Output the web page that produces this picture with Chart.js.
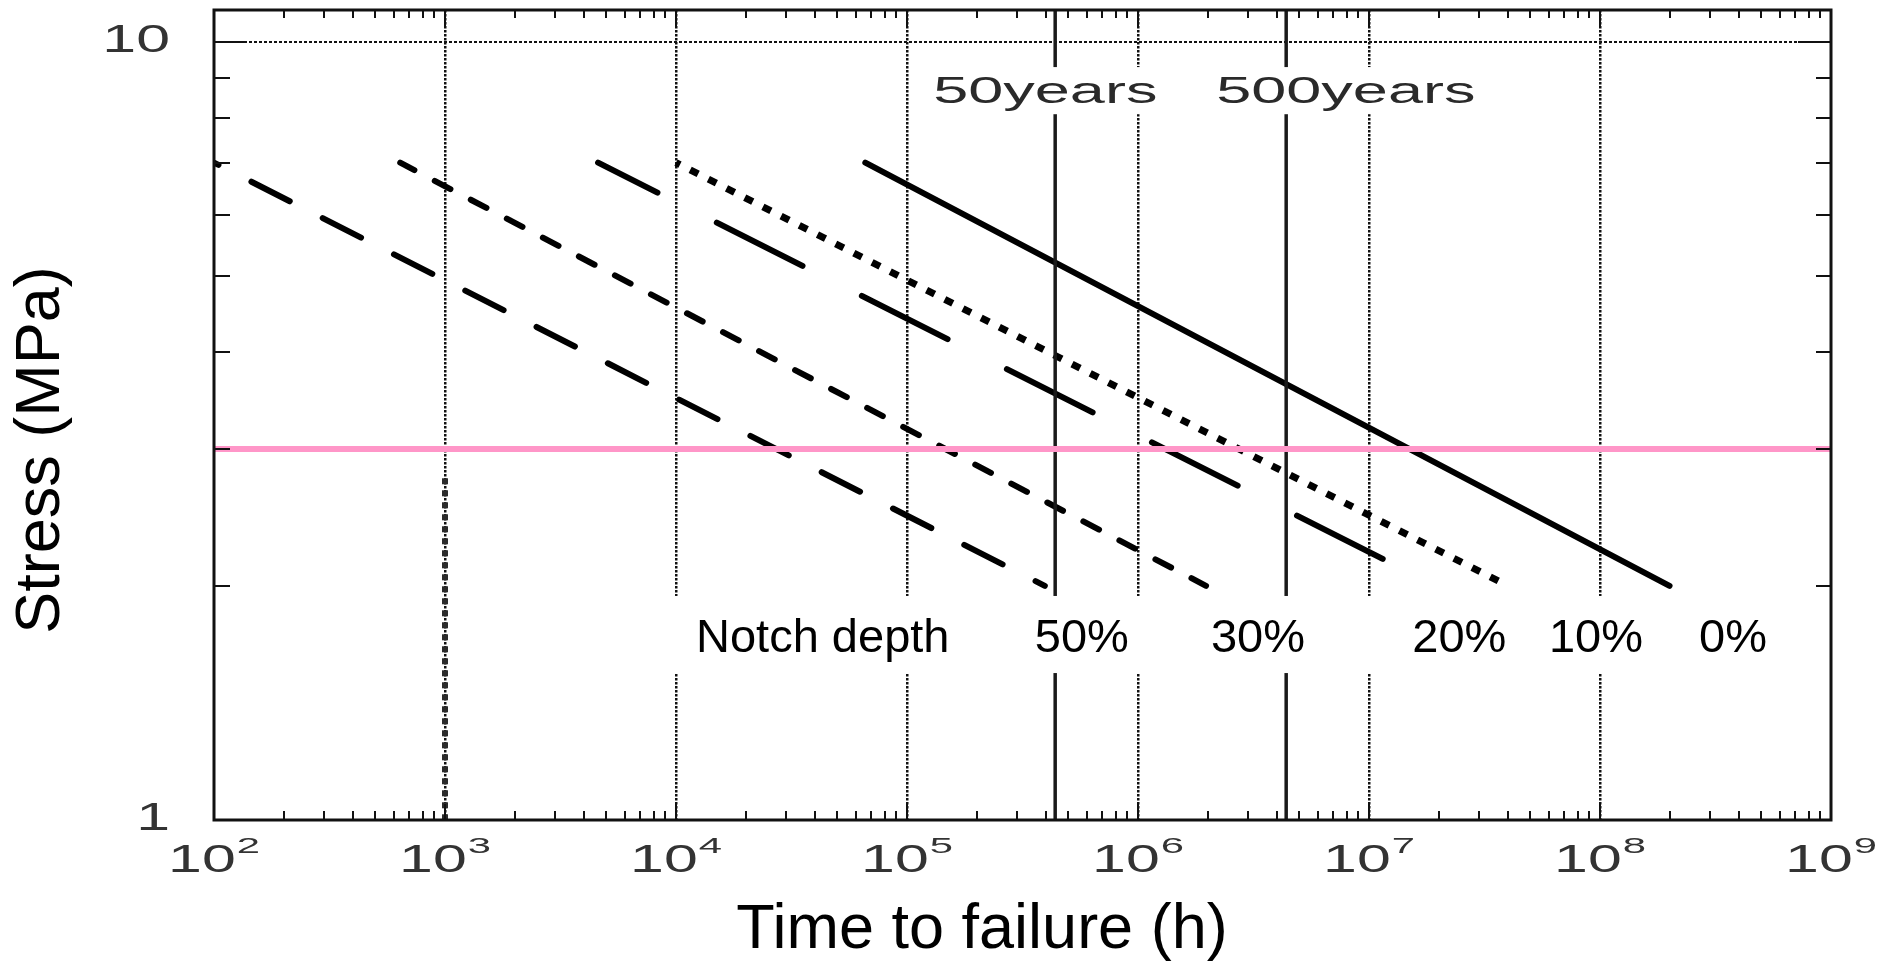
<!DOCTYPE html>
<html>
<head>
<meta charset="utf-8">
<script src="https://cdn.jsdelivr.net/npm/chart.js@4.4.1/dist/chart.umd.min.js"></script>
<style>
html,body{margin:0;padding:0;background:#fff;}
#wrap{width:1883px;height:966px;position:relative;}
</style>
</head>
<body>
<div id="wrap"><canvas id="c"></canvas></div>
<script>
// ---------------- DATA ----------------
const notchDepths   = ['0%', '10%', '20%', '30%', '50%'];
const startTimeH    = [6.6e4, 1.0e4, 4.6e3, 640, 100];        // time (h) where each curve starts
const startStress   = [7, 7, 7, 7, 7];                          // MPa
const endTimeH      = [2.0e8, 4.0e7, 1.95e7, 1.97e6, 3.95e5];  // time (h) where each curve ends
const endStress     = [2, 2, 2, 2, 2];                          // MPa
const refStress     = [3, 3];                                   // pink reference line
const refTimeH      = [1e2, 1e9];
const lifeLabels    = ['50years', '500years'];
const lifeHours     = [438000, 4380000];
const lifeStress    = [1, 11];
const markTimeH     = [1000, 1000];                             // thick dashed marker at 10^3 h
const markStress    = [2.75, 1];
const xTickValues   = [1e2, 1e3, 1e4, 1e5, 1e6, 1e7, 1e8, 1e9];
const xTickExp      = ['2', '3', '4', '5', '6', '7', '8', '9'];
const yTickValues   = [1, 10];
const yTickLabels   = ['1', '10'];
const notchRowLabels = ['Notch depth', '50%', '30%', '20%', '10%', '0%'];

// ---------------- STYLE / LAYOUT ----------------
const FONT = '"Liberation Sans", Arial, sans-serif';
const seriesStyle = {
  '0%':  {borderWidth: 6, borderDash: [],          borderDashOffset: 0,    borderCapStyle: 'round'},
  '10%': {borderWidth: 7, borderDash: [9, 11.4],   borderDashOffset: 4.5,  borderCapStyle: 'butt'},
  '20%': {borderWidth: 6, borderDash: [96, 66.5],  borderDashOffset: 29.5, borderCapStyle: 'round'},
  '30%': {borderWidth: 6, borderDash: [17.7, 23],  borderDashOffset: 1.7,  borderCapStyle: 'round'},
  '50%': {borderWidth: 6, borderDash: [43, 37],    borderDashOffset: 38,   borderCapStyle: 'round'}
};
// white boxes behind annotations (in data units: x0, x1, y0, y1)
const whiteBoxes = [[1.14e5, 3.69e7, 9.29, 8.08], [8.95e3, 6.65e8, 1.941, 1.545]];
// annotation anchors (data units; x = ink-left, y = baseline)
const lifeTextX   = [1.322e5, 2.22e6];
const lifeTextY   = 8.35;
const notchTextX  = [1.258e4, 3.61e5, 2.09e6, 1.57e7, 6.19e7, 2.71e8];
const notchTextY  = 1.644;

// ---------------- BUILD ----------------
const pts = (xs, ys) => xs.map((v, i) => ({x: v, y: ys[i]}));
const datasets = [];
datasets.push({label: 'ref', data: pts(refTimeH, refStress), borderColor: '#ff96c8', borderWidth: 6});
lifeHours.forEach((h, i) => datasets.push({label: lifeLabels[i], data: pts([h, h], lifeStress), borderColor: '#1a1a1a', borderWidth: 3.5}));
datasets.push({label: 'mark', data: pts(markTimeH, markStress), borderColor: '#2b2b2b', borderWidth: 6, borderDash: [6, 6], borderCapStyle: 'butt'});
notchDepths.forEach((n, i) => {
  datasets.push(Object.assign({label: n, data: [{x: startTimeH[i], y: startStress[i]}, {x: endTimeH[i], y: endStress[i]}], borderColor: '#000'}, seriesStyle[n]));
});
datasets.forEach(d => { d.showLine = true; d.pointRadius = 0; d.fill = false; d.tension = 0; });

function stretchText(ctx, txt, x, y, font, sx, align, color) {
  ctx.save();
  ctx.font = font; ctx.fillStyle = color; ctx.textAlign = align || 'left'; ctx.textBaseline = 'alphabetic';
  ctx.translate(x, y); ctx.scale(sx, 1); ctx.fillText(txt, 0, 0);
  ctx.restore();
}

const decor = {
  id: 'decor',
  afterDatasetsDraw(chart) {
    const {ctx, chartArea: a, scales: {x, y}} = chart;
    ctx.save();
    ctx.fillStyle = '#fff';
    whiteBoxes.forEach(b => {
      const x0 = x.getPixelForValue(b[0]), x1 = x.getPixelForValue(b[1]);
      const y0 = y.getPixelForValue(b[2]), y1 = y.getPixelForValue(b[3]);
      ctx.fillRect(x0, Math.min(y0, y1), x1 - x0, Math.abs(y1 - y0));
    });
    // frame
    ctx.strokeStyle = '#111'; ctx.lineWidth = 3;
    ctx.strokeRect(a.left, a.top, a.right - a.left, a.bottom - a.top);
    // ticks
    ctx.lineWidth = 2; ctx.beginPath();
    for (let k = 2; k < 9; k++) {
      for (let m = 1; m <= 9; m++) {
        if (k === 2 && m === 1) continue;
        const px = Math.round(x.getPixelForValue(m * Math.pow(10, k)));
        const major = m === 1;
        ctx.moveTo(px, a.bottom); ctx.lineTo(px, a.bottom - (major ? 16 : 9));
        ctx.moveTo(px, a.top); ctx.lineTo(px, a.top + (major ? 18 : 8));
      }
    }
    for (let m = 2; m <= 10; m++) {
      const py = Math.round(y.getPixelForValue(m));
      const major = m === 10;
      ctx.moveTo(a.left, py); ctx.lineTo(a.left + (major ? 32 : 16), py);
      ctx.moveTo(a.right, py); ctx.lineTo(a.right - (major ? 33 : 15), py);
    }
    ctx.stroke();
    ctx.restore();
  },
  afterDraw(chart) {
    const {ctx, chartArea: a, scales: {x, y}} = chart;
    ctx.save();
    const tickCol = '#333';
    // x tick labels 10^k
    const mainF = '38px ' + FONT, supF = '22px ' + FONT, sxM = 1.6, sxS = 1.9;
    xTickValues.forEach((v, i) => {
      const px = x.getPixelForValue(v);
      ctx.font = mainF; const wm = ctx.measureText('10').width * sxM;
      ctx.font = supF;  const ws = ctx.measureText(xTickExp[i]).width * sxS;
      const left = px - (wm + 1 + ws) / 2;
      stretchText(ctx, '10', left, a.bottom + 52, mainF, sxM, 'left', tickCol);
      stretchText(ctx, xTickExp[i], left + wm + 1, a.bottom + 33, supF, sxS, 'left', tickCol);
    });
    // y tick labels
    yTickValues.forEach((v, i) => {
      const py = y.getPixelForValue(v);
      stretchText(ctx, yTickLabels[i], a.left - 44, py + 10, mainF, sxM, 'right', tickCol);
    });
    // design-life labels
    const lifeF = '36px ' + FONT;
    lifeLabels.forEach((t, i) => {
      ctx.font = lifeF;
      const bl = ctx.measureText(t).actualBoundingBoxLeft * 1.75;
      stretchText(ctx, t, x.getPixelForValue(lifeTextX[i]) + bl, y.getPixelForValue(lifeTextY), lifeF, 1.75, 'left', '#2a2a2a');
    });
    // notch depth row
    ctx.font = '47px ' + FONT; ctx.fillStyle = '#000'; ctx.textAlign = 'left'; ctx.textBaseline = 'alphabetic';
    notchRowLabels.forEach((t, i) => {
      const bl = ctx.measureText(t).actualBoundingBoxLeft;
      ctx.fillText(t, x.getPixelForValue(notchTextX[i]) + bl, y.getPixelForValue(notchTextY));
    });
    // axis titles
    ctx.font = '63px ' + FONT; ctx.textAlign = 'center'; ctx.fillStyle = '#000';
    ctx.fillText('Time to failure (h)', 982, 948);
    ctx.save(); ctx.translate(59, 450); ctx.rotate(-Math.PI / 2);
    ctx.fillText('Stress (MPa)', 0, 0);
    ctx.restore();
    ctx.restore();
  }
};

new Chart(document.getElementById('c'), {
  type: 'scatter',
  data: {datasets},
  plugins: [decor],
  options: {
    responsive: true, maintainAspectRatio: false, animation: false, events: [],
    layout: {padding: {left: 214, top: 10, right: 52, bottom: 146}},
    plugins: {legend: {display: false}, tooltip: {enabled: false}, title: {display: false}},
    scales: {
      x: {
        type: 'logarithmic', min: 1e2, max: 1e9, bounds: 'data',
        afterBuildTicks: s => { s.ticks = xTickValues.map(v => ({value: v})); },
        afterFit: s => { s.height = 0; },
        ticks: {display: false},
        grid: {drawTicks: false, lineWidth: 2.5,
               color: c => (c.tick && (c.tick.value === 1e2 || c.tick.value === 1e9)) ? 'rgba(0,0,0,0)' : '#111'},
        border: {display: false, dash: [2.5, 1.5]}
      },
      y: {
        type: 'logarithmic', min: 1, max: 11, bounds: 'data',
        afterBuildTicks: s => { s.ticks = yTickValues.map(v => ({value: v})); },
        afterFit: s => { s.width = 0; },
        ticks: {display: false},
        grid: {drawTicks: false, lineWidth: 2,
               color: c => (c.tick && c.tick.value === 10) ? '#111' : 'rgba(0,0,0,0)'},
        border: {display: false, dash: [3, 2]}
      }
    }
  }
});
</script>
</body>
</html>
